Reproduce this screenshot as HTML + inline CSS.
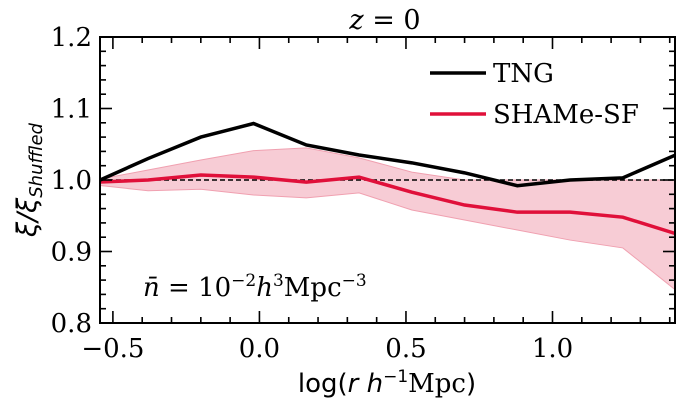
<!DOCTYPE html>
<html><head><meta charset="utf-8"><style>
body{margin:0;background:#fff}
svg text{font-family:"DejaVu Serif","Liberation Serif",serif;fill:#000}
</style></head><body>
<svg width="682" height="409" xmlns="http://www.w3.org/2000/svg" id="c" style="position:absolute;left:0;top:0"></svg>
<svg style="position:absolute;left:0;top:0" width="682" height="409">
<text x="385" y="29" font-size="27" text-anchor="middle"><tspan font-style="italic">z</tspan> = 0</text>
<line x1="430" x2="486" y1="73" y2="73" stroke="#000" stroke-width="3.5"/>
<text x="493" y="82" font-size="26">TNG</text>
<line x1="430" x2="486" y1="114" y2="114" stroke="#e0103a" stroke-width="3.5"/>
<text x="493" y="123" font-size="26">SHAMe-SF</text>
<text x="143" y="296" font-size="26"><tspan font-style="italic">n̄</tspan> = 10<tspan font-size="17" dy="-10">−2</tspan><tspan dy="10" font-style="italic">h</tspan><tspan font-size="17" dy="-10">3</tspan><tspan dy="10">Mpc</tspan><tspan font-size="17" dy="-10">−3</tspan></text>
<text x="387" y="392" font-size="26" text-anchor="middle" style="font-family:'DejaVu Sans',sans-serif">log(<tspan font-style="italic">r h</tspan><tspan font-size="17" dy="-10">−1</tspan><tspan dy="10" style="font-family:'DejaVu Serif',serif">Mpc</tspan>)</text>
<text transform="translate(36,180) rotate(-90)" font-size="27" text-anchor="middle" font-style="italic" style="font-family:'DejaVu Sans',sans-serif">ξ/ξ<tspan font-size="18" dy="6">Shuffled</tspan></text>
</svg>
<script>
const xs=[-0.56,-0.38,-0.20,-0.02,0.16,0.34,0.52,0.70,0.88,1.06,1.24,1.42];
const tng=[0.997,1.030,1.060,1.079,1.049,1.035,1.024,1.010,0.992,1.000,1.003,1.035];
const shame=[0.997,1.000,1.007,1.004,0.997,1.004,0.983,0.965,0.955,0.955,0.948,0.925];
const bandHi=[1.000,1.014,1.028,1.041,1.045,1.031,1.011,1.000,1.000,1.000,1.000,1.000];
const bandLo=[0.993,0.985,0.987,0.979,0.975,0.982,0.958,0.944,0.930,0.916,0.905,0.846];
const xTicks=[-0.5,0.0,0.5,1.0];
const xTickLabels=["\u22120.5","0.0","0.5","1.0"];
const yTicks=[0.8,0.9,1.0,1.1,1.2];
const yTickLabels=["0.8","0.9","1.0","1.1","1.2"];
const L=100,R=675,T=37,B=323,x0=-0.544,x1=1.418,y0=0.8,y1=1.2;
const X=v=>L+(v-x0)/(x1-x0)*(R-L), Y=v=>B-(v-y0)/(y1-y0)*(B-T);
const s=document.getElementById('c'),NS="http://www.w3.org/2000/svg";
function mk(t,a,p){const e=document.createElementNS(NS,t);for(const k in a)e.setAttribute(k,a[k]);(p||s).appendChild(e);return e;}
const defs=mk('defs',{});const cp=mk('clipPath',{id:'cp'},defs);mk('rect',{x:L,y:T,width:R-L,height:B-T},cp);
const g=mk('g',{'clip-path':'url(#cp)'});
let band=mk('path',{d:'M'+xs.map((v,i)=>X(v)+','+Y(bandHi[i])).join('L')+'L'+xs.map((v,i)=>X(v)+','+Y(bandLo[i])).reverse().join('L')+'Z',fill:'#f7ccd5',stroke:'#f0a0b0','stroke-width':1},g);


let ref=mk('line',{x1:L,x2:R,y1:Y(1),y2:Y(1),stroke:'#000','stroke-width':1.5,'stroke-dasharray':'5,3'},g);


let ls=mk('polyline',{points:xs.map((v,i)=>X(v)+','+Y(shame[i])).join(' '),fill:'none',stroke:'#e0103a','stroke-width':3.5},g);


let lt=mk('polyline',{points:xs.map((v,i)=>X(v)+','+Y(tng[i])).join(' '),fill:'none',stroke:'#000','stroke-width':3.5},g);


for(let k=0;k<=19;k++){const px=X(-0.5+k*0.1);const l=(k%5===0)?12:6;
let a=mk('rect',{x:px-0.8,y:B-l,width:1.6,height:l,fill:'#000'});


let b=mk('rect',{x:px-0.8,y:T,width:1.6,height:l,fill:'#000'});

}
for(let k=0;k<=20;k++){const py=Y(0.8+k*0.02);const l=(k%5===0)?12:6;
let a=mk('rect',{x:L,y:py-0.8,width:l,height:1.6,fill:'#000'});


let b=mk('rect',{x:R-l,y:py-0.8,width:l,height:1.6,fill:'#000'});

}
xTicks.forEach((v,i)=>{let t=mk('text',{x:X(v),y:357,'font-size':26,'text-anchor':'middle'});t.textContent=xTickLabels[i];
});
yTicks.forEach((v,i)=>{let t=mk('text',{x:92,y:Y(v)+9,'font-size':26,'text-anchor':'end'});t.textContent=yTickLabels[i];
});
let fr=mk('rect',{x:L,y:T,width:R-L,height:B-T,fill:'none',stroke:'#000','stroke-width':2});


</script>
</body></html>
